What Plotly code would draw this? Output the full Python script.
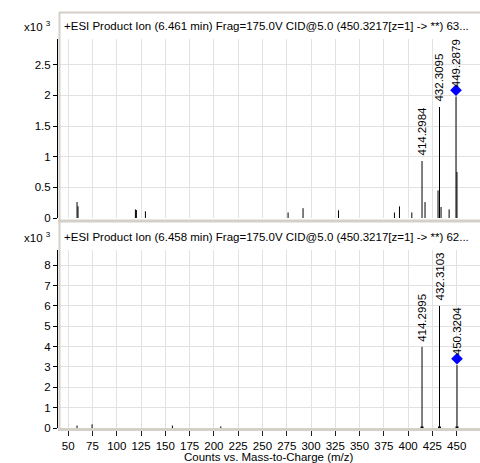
import plotly.graph_objects as go

# ---------------- data (counts in units of 10^3) ----------------
top_mz = [59.1, 60.1, 119.2, 120.2, 129.5, 276.4, 291.8, 328.3, 385.9, 391.1,
          403.8, 414.2984, 417.4, 430.8, 432.3095, 433.9, 442.2, 449.2879, 450.3]
top_counts = [0.26, 0.19, 0.14, 0.13, 0.11, 0.09, 0.16, 0.125, 0.09, 0.19,
              0.09, 0.93, 0.26, 0.45, 1.81, 0.18, 0.14, 1.98, 0.75]
top_labels = ["414.2984", "432.3095", "449.2879"]
top_precursor = "449.2879"

bot_mz = [59.1, 74.6, 157.3, 207.1, 414.2995, 432.3103, 450.3204]
bot_counts = [0.12, 0.18, 0.12, 0.08, 3.99, 6.00, 3.09]
bot_labels = ["414.2995", "432.3103", "450.3204"]
bot_precursor = "450.3204"

top_title = "+ESI Product Ion (6.461 min) Frag=175.0V CID@5.0 (450.3217[z=1] -> **) 63..."
bot_title = "+ESI Product Ion (6.458 min) Frag=175.0V CID@5.0 (450.3217[z=1] -> **) 62..."
x_title = "Counts vs. Mass-to-Charge (m/z)"
x_ticks = [50, 75, 100, 125, 150, 175, 200, 225, 250, 275, 300, 325, 350, 375, 400, 425, 450]
top_yticks = [0, 0.5, 1, 1.5, 2, 2.5]
bot_yticks = [0, 1, 2, 3, 4, 5, 6, 7, 8]

# ---------------- layout geometry ----------------
W, H = 480, 463
ML, MR, MT, MB = 58, 0, 39, 35
PW, PH = W - ML - MR, H - MT - MB
X_RANGE = [39.5, 474]
TOP_RANGE = [0, 2.92]
BOT_RANGE = [0, 8.75]

def px_x(px):
    return (px - ML) / PW

def px_y(py):
    return (H - MB - py) / PH

top_dom = [px_y(218), 1.0]
bot_dom = [0.0, px_y(250)]

FONT = "Liberation Sans, Arial, sans-serif"
FS = 11.5
GRID = "#e2e2e2"
FRAME = "#d4d0c8"

fig = go.Figure()

def sticks(mz, cnt):
    xs, ys = [], []
    for m, c in zip(mz, cnt):
        xs += [m, m, None]
        ys += [0, c, None]
    return xs, ys

for mz, cnt, xa, ya, rng, labels, prec in [
    (top_mz, top_counts, "x", "y", TOP_RANGE, top_labels, top_precursor),
    (bot_mz, bot_counts, "x2", "y2", BOT_RANGE, bot_labels, bot_precursor),
]:
    xs, ys = sticks(mz, cnt)
    fig.add_trace(go.Scatter(x=xs, y=ys, mode="lines", xaxis=xa, yaxis=ya,
                             line=dict(color="black", width=1), hoverinfo="skip",
                             showlegend=False))
    # precursor diamond slightly above peak
    pm = [m for m in mz if f"{m:.4f}" == prec]
    pc = [c for m, c in zip(mz, cnt) if f"{m:.4f}" == prec]
    off = 0.036 * (rng[1] - rng[0])
    fig.add_trace(go.Scatter(x=pm, y=[c + off for c in pc], mode="markers",
                             xaxis=xa, yaxis=ya, showlegend=False,
                             marker=dict(symbol="diamond", size=9, color="#0000ff",
                                         line=dict(width=0)), cliponaxis=False))
    for m, c in zip(mz, cnt):
        lab = f"{m:.4f}"
        if lab in labels:
            is_prec = lab == prec
            fig.add_annotation(x=m, y=(c + off) if is_prec else c, xref=xa, yref=ya,
                               text=lab, showarrow=False, textangle=-90,
                               xanchor="center", yanchor="bottom",
                               yshift=1 if is_prec else 3,
                               font=dict(family=FONT, size=FS, color="black"))

# small base squares on the labelled peaks of the lower spectrum
bm = [m for m in bot_mz if f"{m:.4f}" in bot_labels]
fig.add_trace(go.Scatter(x=bm, y=[0] * len(bm), mode="markers", xaxis="x2", yaxis="y2",
                         marker=dict(symbol="square", size=3, color="black"),
                         showlegend=False, cliponaxis=False))

axis_common = dict(range=X_RANGE, tick0=0, dtick=25, showgrid=True, gridcolor=GRID,
                   gridwidth=1, zeroline=False, showline=False)
yaxis_common = dict(showgrid=True, gridcolor=GRID, gridwidth=1, zeroline=False,
                    showline=True, linecolor="black", linewidth=1, ticks="outside",
                    ticklen=4, tickcolor="black", tickfont=dict(family=FONT, size=FS, color="black"))

fig.update_layout(
    width=W, height=H, autosize=False,
    margin=dict(l=ML, r=MR, t=MT, b=MB),
    paper_bgcolor="white", plot_bgcolor="white",
    showlegend=False,
    xaxis=dict(axis_common, anchor="y", showticklabels=False, ticks=""),
    xaxis2=dict(axis_common, anchor="y2", matches="x", showticklabels=True,
                tickvals=x_ticks, ticks="outside", ticklen=7, tickcolor="#222",
                tickfont=dict(family=FONT, size=FS, color="black")),
    yaxis=dict(yaxis_common, domain=top_dom, range=TOP_RANGE, tickvals=top_yticks),
    yaxis2=dict(yaxis_common, domain=bot_dom, range=BOT_RANGE, tickvals=bot_yticks),
)

# x-axis title
fig.add_annotation(x=0.5, y=px_y(457), xref="paper", yref="paper", text=x_title,
                   showarrow=False, xanchor="center", yanchor="middle",
                   font=dict(family=FONT, size=FS, color="black"))

# panel headers and multiplier labels
for title, cy in [(top_title, 26), (bot_title, 237)]:
    fig.add_annotation(x=px_x(62), y=px_y(cy), xref="paper", yref="paper", text=title,
                       showarrow=False, xanchor="left", yanchor="middle",
                       font=dict(family=FONT, size=FS, color="black"))
    fig.add_annotation(x=px_x(22), y=px_y(cy), xref="paper", yref="paper",
                       text="x10 <sup>3</sup>", showarrow=False, xanchor="left",
                       yanchor="middle", font=dict(family=FONT, size=FS, color="black"))

# panel frames
def hline(py, x0, x1, w):
    fig.add_shape(type="line", xref="paper", yref="paper", x0=px_x(x0), x1=px_x(x1),
                  y0=px_y(py), y1=px_y(py), line=dict(color=FRAME, width=w), layer="above")

def vline(px, y0, y1, w):
    fig.add_shape(type="line", xref="paper", yref="paper", x0=px_x(px), x1=px_x(px),
                  y0=px_y(y0), y1=px_y(y1), line=dict(color=FRAME, width=w), layer="above")

hline(12.5, 59, 482, 2)
vline(59.5, 12, 431, 2)
hline(221, 58, 482, 3)
hline(429.5, 58, 482, 3)

fig.write_html("out.html", config={"displayModeBar": False},
               post_script="document.body.style.margin='0';document.body.style.overflow='hidden';")
